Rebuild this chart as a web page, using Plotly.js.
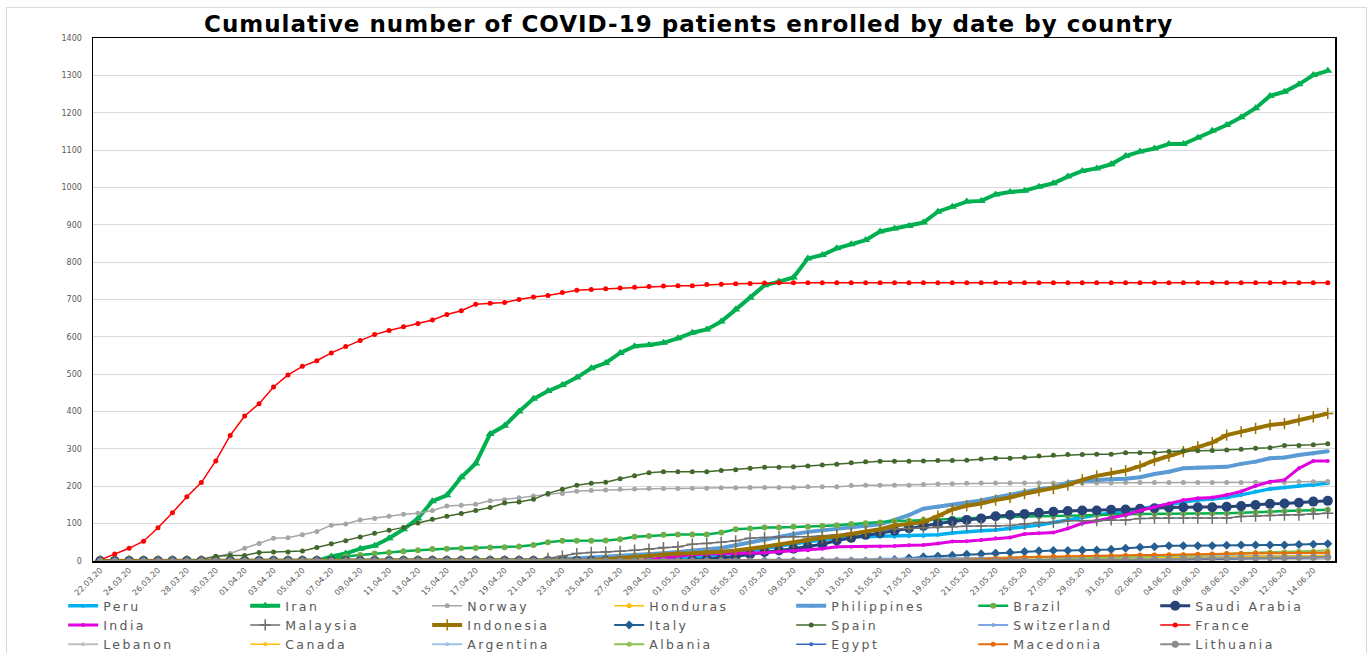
<!DOCTYPE html>
<html>
<head>
<meta charset="utf-8">
<script src="https://cdn.plot.ly/plotly-3.0.1.min.js"></script>
<style>
  html, body { margin: 0; padding: 0; background: #ffffff; }
  #wrap { position: relative; width: 1369px; height: 653px; overflow: hidden; }
  #frame { position: absolute; left: 6px; top: 7px; width: 1359px; height: 660px; border: 1px solid #D9D9D9; pointer-events: none; z-index: 2; }
  #chart { position: absolute; left: 0; top: 0; width: 1369px; height: 653px; }
  .legendtext { letter-spacing: 2.4px; }
  .gtitle { letter-spacing: 1px; }
</style>
</head>
<body>
<div id="wrap">
  <div id="chart"></div>
  <div id="frame"></div>
</div>
<script>
const dates = [
  "22.03.20","23.03.20","24.03.20","25.03.20","26.03.20","27.03.20","28.03.20","29.03.20","30.03.20","31.03.20",
  "01.04.20","02.04.20","03.04.20","04.04.20","05.04.20","06.04.20","07.04.20","08.04.20","09.04.20","10.04.20",
  "11.04.20","12.04.20","13.04.20","14.04.20","15.04.20","16.04.20","17.04.20","18.04.20","19.04.20","20.04.20",
  "21.04.20","22.04.20","23.04.20","24.04.20","25.04.20","26.04.20","27.04.20","28.04.20","29.04.20","30.04.20",
  "01.05.20","02.05.20","03.05.20","04.05.20","05.05.20","06.05.20","07.05.20","08.05.20","09.05.20","10.05.20",
  "11.05.20","12.05.20","13.05.20","14.05.20","15.05.20","16.05.20","17.05.20","18.05.20","19.05.20","20.05.20",
  "21.05.20","22.05.20","23.05.20","24.05.20","25.05.20","26.05.20","27.05.20","28.05.20","29.05.20","30.05.20",
  "31.05.20","01.06.20","02.06.20","03.06.20","04.06.20","05.06.20","06.06.20","07.06.20","08.06.20","09.06.20",
  "10.06.20","11.06.20","12.06.20","13.06.20","14.06.20","15.06.20"
];

const peru = [
  0,0,0,0,0,0,0,0,0,0,
  0,0,0,0,0,0,0,0,0,0,
  0,0,0,0,0,0,0,0,0,0,
  0,0,0,0,0,0,0,0,0,2,
  5,8,12,17,22,27,33,40,46,52,
  57,62,64,65,65,65,66,67,70,75,
  79,81,83,87,90,96,103,110,117,123,
  128,134,141,146,153,159,163,166,170,177,
  186,193,197,201,203,208
];
const iran = [
  0,0,0,0,0,0,0,0,0,0,
  0,0,0,0,0,0,12,20,33,41,
  61,85,114,160,176,224,261,340,362,400,
  434,455,471,491,516,530,557,575,578,584,
  596,611,620,641,673,705,738,748,759,810,
  819,837,848,859,882,890,897,906,935,948,
  962,964,981,988,991,1002,1011,1029,1044,1051,
  1062,1084,1096,1104,1116,1116,1133,1152,1167,1188,
  1212,1245,1256,1276,1301,1312
];
const norway = [
  0,0,0,0,0,0,0,3,12,20,
  34,47,61,62,70,79,96,99,110,114,
  120,125,128,135,147,149,152,161,164,169,
  174,178,181,187,189,190,192,193,194,194,
  194,195,195,196,196,197,197,197,197,199,
  199,199,202,203,203,203,203,205,206,207,
  208,209,209,209,209,209,209,209,209,209,
  209,210,210,210,210,210,210,210,210,210,
  211,211,211,212,212,213
];
const honduras = [
  0,0,0,0,0,0,0,0,0,0,
  0,0,0,0,0,0,0,0,0,0,
  0,0,0,0,0,0,0,0,0,0,
  0,0,0,0,0,0,0,0,0,0,
  0,0,0,0,0,0,0,0,0,0,
  1,2,3,3,4,5,5,6,7,7,
  8,8,9,10,11,12,12,13,13,14,
  14,15,15,16,16,17,17,18,19,19,
  20,20,21,21,22,22
];
const philippines = [
  0,0,0,0,0,0,0,0,0,0,
  0,0,0,0,0,0,0,0,0,0,
  0,0,0,0,0,0,0,0,0,1,
  2,3,5,7,10,13,15,17,19,21,
  24,27,30,35,42,50,58,64,72,78,
  82,85,88,92,98,110,123,140,145,150,
  156,162,170,178,186,192,197,210,214,217,
  219,220,224,233,239,248,250,250,252,260,
  266,275,277,284,288,294
];
const brazil = [
  0,0,0,0,0,0,0,0,0,0,
  0,0,0,0,0,2,5,12,16,20,
  23,26,29,32,33,34,35,36,37,39,
  43,50,54,54,54,55,58,65,67,70,
  71,71,71,76,85,87,90,90,92,92,
  94,96,99,101,103,107,108,110,112,114,
  115,116,117,119,119,120,120,121,122,123,
  123,125,126,126,127,127,128,128,128,129,
  130,132,134,135,136,137
];
const saudiArabia = [
  0,0,0,0,0,0,0,0,0,0,
  0,0,0,0,0,0,0,0,0,0,
  0,0,0,0,0,0,0,0,0,0,
  0,0,0,0,0,0,0,0,0,0,
  0,2,5,8,12,18,24,28,33,38,
  45,55,62,70,75,81,88,94,100,106,
  110,114,120,123,126,129,132,134,135,135,
  137,138,140,141,143,144,144,144,145,147,
  150,153,154,156,159,161
];
const india = [
  0,0,0,0,0,0,0,0,0,0,
  0,0,0,0,0,0,0,0,0,0,
  0,0,0,0,0,0,0,0,0,0,
  0,0,0,0,0,0,0,0,4,8,
  14,17,19,20,20,20,22,25,27,29,
  33,38,38,38,39,40,42,43,47,52,
  53,56,61,63,72,74,76,87,101,108,
  116,123,135,144,154,163,168,170,177,186,
  201,212,217,248,268,268
];
const malaysia = [
  0,0,0,0,0,0,0,0,0,0,
  0,0,0,0,0,0,0,0,0,0,
  0,0,0,0,0,0,0,0,0,0,
  0,7,13,20,23,24,26,29,32,36,
  38,45,47,50,54,61,63,65,65,65,
  67,70,74,79,81,86,87,89,92,92,
  93,94,94,95,99,103,103,108,108,108,
  110,110,114,115,115,115,115,115,115,119,
  120,122,123,123,126,128
];
const indonesia = [
  0,0,0,0,0,0,0,0,0,0,
  0,0,0,0,0,0,0,0,0,0,
  0,0,0,0,0,0,0,0,0,0,
  0,0,0,0,2,5,8,11,14,18,
  20,21,22,25,28,32,38,44,50,58,
  62,66,72,79,85,95,99,104,120,138,
  148,154,163,170,180,188,194,203,217,228,
  235,242,254,269,281,293,306,317,337,346,
  355,364,368,377,386,395
];
const italy = [
  0,0,0,0,0,0,0,0,0,0,
  0,0,0,0,0,0,0,0,0,0,
  0,0,0,0,0,0,0,0,0,0,
  0,0,0,0,0,0,0,0,0,0,
  0,0,0,0,0,0,0,0,0,0,
  0,0,0,0,2,4,8,11,13,15,
  18,19,21,23,25,27,28,28,29,29,
  31,34,37,38,41,41,41,41,42,43,
  43,43,43,44,45,46
];
const spain = [
  0,0,0,0,0,0,0,5,13,15,
  15,23,24,24,27,36,46,54,64,74,
  82,90,102,112,120,127,135,143,155,158,
  165,181,192,203,208,211,220,228,236,239,
  239,239,239,242,244,248,251,251,252,254,
  257,259,263,266,267,267,267,268,269,269,
  270,273,275,275,277,281,283,285,285,286,
  286,290,290,290,293,295,295,296,297,299,
  302,303,309,309,311,314
];
const switzerland = [
  0,0,0,0,0,0,0,0,0,0,
  0,0,0,0,0,0,0,0,0,0,
  0,0,0,0,0,0,0,0,0,0,
  0,0,0,0,0,0,0,0,0,0,
  0,1,1,2,2,3,3,3,4,4,
  4,5,5,5,6,6,6,7,7,7,
  8,8,8,9,9,9,10,10,10,10,
  11,11,11,11,12,12,12,12,13,13,
  13,13,14,14,14,15
];
const france = [
  3,19,34,53,89,129,172,210,268,336,
  388,421,466,498,521,536,557,574,590,606,
  617,627,636,645,660,670,687,690,692,700,
  707,711,719,725,727,729,731,733,735,736,
  737,737,740,741,742,743,744,745,745,745,
  745,745,745,745,745,745,745,745,745,745,
  745,745,745,745,745,745,745,745,745,745,
  745,745,745,745,745,745,745,745,745,745,
  745,745,745,745,745,745
];
const lebanon = [
  0,0,0,0,0,0,0,0,0,0,
  0,0,0,0,0,0,0,0,0,0,
  0,0,0,0,0,0,0,0,0,0,
  0,0,0,0,0,0,0,0,0,0,
  0,0,0,0,0,0,0,0,0,0,
  0,0,0,0,0,0,0,0,0,0,
  0,0,1,1,1,1,1,2,2,2,
  2,2,2,3,3,3,3,3,3,4,
  4,4,4,4,5,5
];
const canada = [
  0,0,0,0,0,0,0,0,0,0,
  0,0,0,0,0,0,0,0,0,0,
  0,0,0,0,0,0,0,0,0,0,
  0,0,0,0,0,0,0,0,0,0,
  0,0,0,0,0,0,0,0,0,0,
  0,0,0,0,0,1,1,1,2,2,
  2,3,3,4,4,5,5,6,6,7,
  7,8,8,9,9,10,10,11,11,12,
  12,13,13,14,14,15
];
const argentina = [
  0,0,0,0,0,0,0,0,0,0,
  0,0,0,0,0,0,0,0,0,0,
  0,0,0,0,0,0,0,0,0,0,
  0,0,0,0,0,0,0,0,0,0,
  0,0,0,0,0,0,0,0,0,0,
  0,0,0,0,0,0,0,0,0,0,
  1,1,1,2,2,2,3,3,3,4,
  4,4,5,5,5,6,6,6,7,7,
  8,8,9,9,10,10
];
const albania = [
  0,0,0,0,0,0,0,0,0,0,
  0,0,0,0,0,0,0,0,0,0,
  0,0,0,0,0,0,0,0,0,0,
  0,0,0,0,0,0,0,0,0,0,
  0,0,0,0,0,0,0,0,0,0,
  0,0,0,0,0,0,0,0,0,0,
  0,0,0,2,3,4,5,6,7,8,
  9,10,11,12,13,14,16,18,20,21,
  23,24,25,26,27,28
];
const egypt = [
  0,0,0,0,0,0,0,0,0,0,
  0,0,0,0,0,0,0,0,0,0,
  0,0,0,0,0,0,0,0,0,0,
  0,0,0,0,0,0,0,0,0,0,
  0,0,0,0,0,0,0,0,0,0,
  0,0,0,0,0,0,0,0,0,0,
  0,0,0,0,0,0,0,0,1,1,
  2,2,3,3,3,4,4,5,5,6,
  6,7,8,8,9,10
];
const macedonia = [
  0,0,0,0,0,0,0,0,0,0,
  0,0,0,0,0,0,0,0,0,0,
  0,0,0,0,0,0,0,0,0,0,
  0,0,0,0,0,0,0,0,0,0,
  0,0,0,0,0,0,0,0,0,0,
  0,0,0,0,0,0,0,0,2,3,
  4,5,7,8,10,11,12,13,13,14,
  15,15,16,16,17,17,18,19,20,20,
  21,21,21,22,22,22
];
const lithuania = [
  0,0,0,0,0,0,0,0,0,0,
  0,0,0,0,0,0,0,0,0,0,
  0,0,0,0,0,0,0,0,0,0,
  0,0,0,0,0,0,0,0,0,0,
  0,0,0,0,0,0,0,0,0,0,
  0,0,0,0,0,0,0,0,0,0,
  0,0,0,0,0,1,1,2,2,3,
  3,4,4,5,5,6,6,7,7,8,
  8,9,9,10,10,11
];

const seriesNames = ["Peru","Iran","Norway","Honduras","Philippines","Brazil","Saudi Arabia",
  "India","Malaysia","Indonesia","Italy","Spain","Switzerland","France",
  "Lebanon","Canada","Argentina","Albania","Egypt","Macedonia","Lithuania"];
const seriesValues = [peru, iran, norway, honduras, philippines, brazil, saudiArabia,
  india, malaysia, indonesia, italy, spain, switzerland, france,
  lebanon, canada, argentina, albania, egypt, macedonia, lithuania];

// styles: [lineColor, lineWidth, markerSymbol, markerSize, markerColor]
const styles = [
  ["#00B0F0", 3.5, "circle", 4, "#00B0F0"],
  ["#00B050", 4, "triangle-up", 8, "#00B050"],
  ["#A6A6A6", 1.5, "circle", 5, "#A6A6A6"],
  ["#FFC000", 1.5, "circle", 5, "#FFC000"],
  ["#5B9BD5", 4, "circle", 4, "#5B9BD5"],
  ["#00B050", 2.5, "circle", 6, "#70AD47"],
  ["#264478", 3, "circle", 10, "#264478"],
  ["#E000E0", 3, "circle", 4, "#E000E0"],
  ["#6E6E6E", 1.5, "cross-thin", 8, "#6E6E6E"],
  ["#9A7200", 4, "cross-thin", 8, "#9A7200"],
  ["#255E91", 2, "diamond", 7, "#255E91"],
  ["#43682B", 1.5, "circle", 5, "#43682B"],
  ["#7EA6E0", 2, "circle", 4, "#7EA6E0"],
  ["#FF0000", 1.5, "circle", 5, "#FF0000"],
  ["#BFBFBF", 2, "circle", 4, "#BFBFBF"],
  ["#FFC000", 1.5, "circle", 4, "#FFC000"],
  ["#9DC3E6", 2, "circle", 4, "#9DC3E6"],
  ["#8CC152", 2, "circle", 5, "#8CC152"],
  ["#3A66C4", 1.5, "circle", 4, "#3A66C4"],
  ["#E46C0A", 2, "circle", 5, "#E46C0A"],
  ["#8C8C8C", 2, "circle", 7, "#8C8C8C"]
];

seriesValues.forEach(function (arr, k) {
  if (arr.length !== dates.length) { throw new Error(seriesNames[k] + " has " + arr.length + " values"); }
});

const traces = seriesValues.map(function (vals, k) {
  const s = styles[k];
  const isCross = s[2] === "cross-thin";
  return {
    type: "scatter",
    mode: "lines+markers",
    name: seriesNames[k],
    x: dates,
    y: vals,
    line: { color: s[0], width: s[1] },
    marker: {
      symbol: s[2], size: s[3], color: s[4],
      line: isCross ? { color: s[4], width: 1.5 } : { width: 0 }
    }
  };
});

const tickDates = dates.filter(function (d, i) { return i % 2 === 0; });

const layout = {
  width: 1369,
  height: 653,
  paper_bgcolor: "rgba(0,0,0,0)",
  plot_bgcolor: "#ffffff",
  margin: { l: 93, r: 34, t: 38, b: 92, autoexpand: false },
  font: { family: "DejaVu Sans, Verdana, sans-serif", color: "#595959" },
  title: {
    text: "<b>Cumulative number of COVID-19 patients enrolled by date by country</b>",
    font: { family: "DejaVu Sans, Verdana, sans-serif", size: 23, color: "#000000" },
    x: 0.503, xanchor: "center", xref: "container",
    y: 0.963, yanchor: "middle", yref: "container"
  },
  xaxis: {
    type: "category",
    categoryorder: "array",
    categoryarray: dates,
    range: [-0.5, dates.length - 0.5],
    tickmode: "array",
    tickvals: tickDates,
    ticktext: tickDates,
    tickangle: -45,
    tickfont: { size: 8, color: "#595959" },
    showgrid: false,
    showline: true, mirror: true, linecolor: "#000000", linewidth: 1.5,
    ticks: "", zeroline: false, fixedrange: true
  },
  yaxis: {
    range: [0, 1400],
    dtick: 100,
    tick0: 0,
    tickfont: { size: 8, color: "#595959" },
    gridcolor: "#D9D9D9", gridwidth: 1,
    showline: true, mirror: true, linecolor: "#000000", linewidth: 1.5,
    ticks: "", zeroline: false, ticklabelstandoff: 8, fixedrange: true
  },
  showlegend: true,
  legend: {
    orientation: "h",
    x: -0.024, xanchor: "left", xref: "paper",
    y: -0.0575, yanchor: "top", yref: "paper",
    entrywidth: 137, entrywidthmode: "pixels",
    itemwidth: 30,
    font: { family: "DejaVu Sans, Verdana, sans-serif", size: 12.5, color: "#595959" },
    bgcolor: "rgba(0,0,0,0)",
    traceorder: "normal"
  }
};

Plotly.newPlot("chart", traces, layout, { displayModeBar: false, staticPlot: true });
</script>
</body>
</html>
